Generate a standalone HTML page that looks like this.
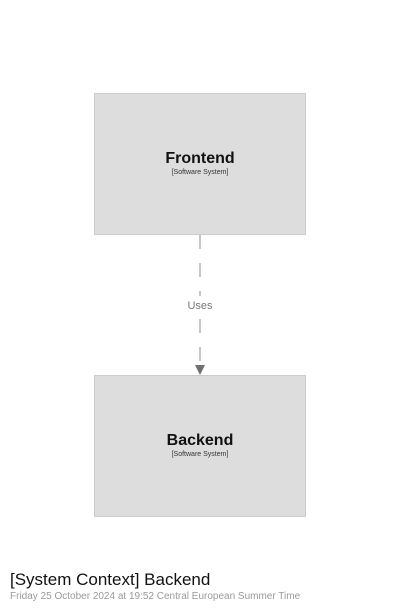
<!DOCTYPE html>
<html><head><style>
body{margin:0;width:400px;height:611px;background:#fff;font-family:"Liberation Sans",sans-serif;position:relative;overflow:hidden}
.box{position:absolute;left:94px;width:210px;height:140px;background:#dddddd;border:1px solid #cccccc;text-align:center}
.t{font-weight:bold;font-size:16px;color:#111;margin-top:56px;line-height:18px}
.s{font-size:7px;color:#333;margin-top:1px}
</style></head><body>
<div class="box" style="top:93px"><div class="t">Frontend</div><div class="s">[Software System]</div></div>
<div class="box" style="top:375px"><div class="t">Backend</div><div class="s">[Software System]</div></div>
<svg style="position:absolute;left:0;top:0" width="400" height="611">
<line x1="200" y1="235" x2="200" y2="364" stroke="#aaa" stroke-width="1.3" stroke-dasharray="14,14"/>
<rect x="185" y="296" width="30" height="20" fill="#fff"/>
<polygon points="195,365 205,365 200,375" fill="#707070"/>
<text x="200" y="309" font-size="11" fill="#777" text-anchor="middle" font-family="Liberation Sans, sans-serif">Uses</text>
</svg>
<div style="position:absolute;left:10px;top:570px;font-size:17px;color:#111">[System Context] Backend</div>
<div style="position:absolute;left:10px;top:591px;font-size:10px;color:#999">Friday 25 October 2024 at 19:52 Central European Summer Time</div>
</body></html>
